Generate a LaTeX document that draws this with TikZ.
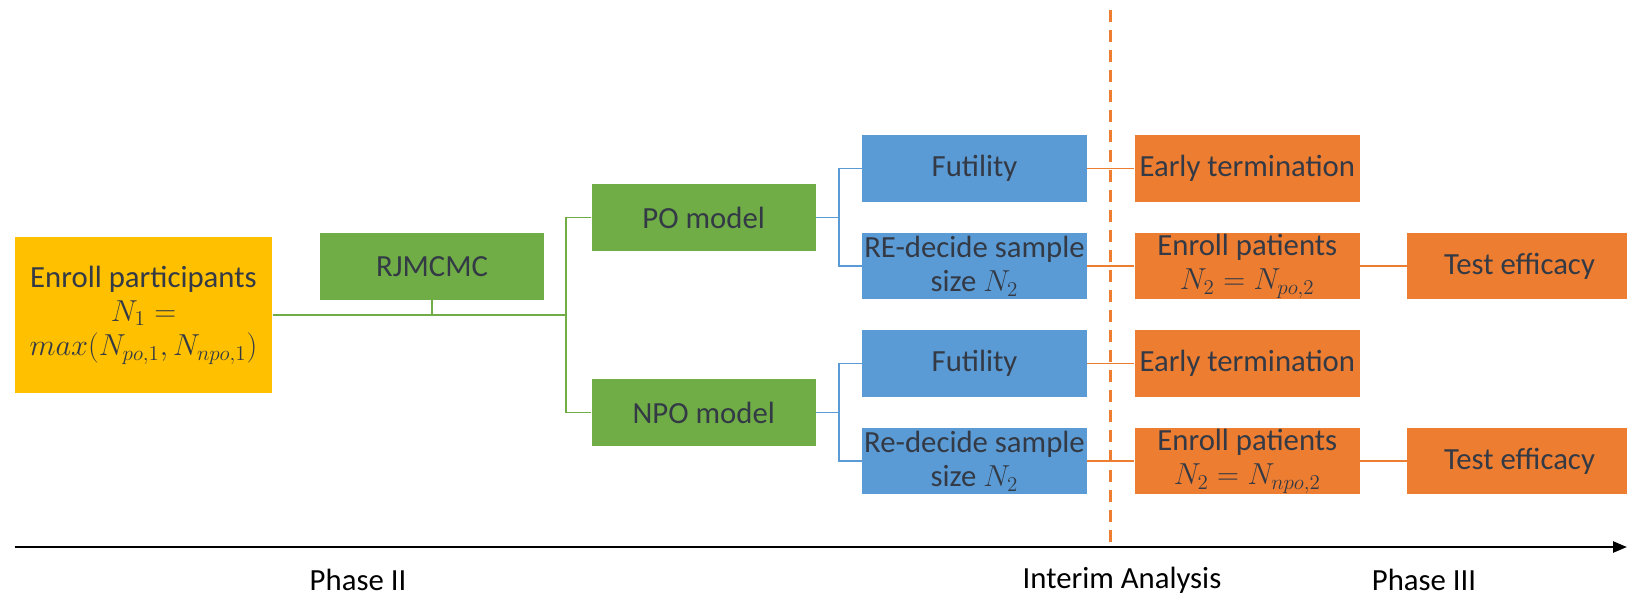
\documentclass[tikz,border=0pt]{standalone}
\usepackage{fontspec}
\setmainfont{Carlito}
\usetikzlibrary{arrows.meta}

\definecolor{boxyellow}{HTML}{FFC000}
\definecolor{boxgreen}{HTML}{70AD47}
\definecolor{boxblue}{HTML}{5B9BD5}
\definecolor{boxorange}{HTML}{ED7D31}
\definecolor{boxtext}{HTML}{333A45}

\tikzset{
  box/.style={rectangle, draw=none, align=center, text=boxtext, inner sep=0pt,
    minimum width=4.5cm, minimum height=1.33cm, font=\fontsize{17.5}{19.5}\selectfont},
  greenbox/.style={box, fill=boxgreen, minimum width=4.48cm, minimum height=1.34cm},
  bluebox/.style={box, fill=boxblue},
  orangebox/.style={box, fill=boxorange},
  greenline/.style={draw=boxgreen, line width=0.85pt},
  blueline/.style={draw=boxblue, line width=0.85pt},
  orangeline/.style={draw=boxorange, line width=0.85pt},
  phaselabel/.style={text=black, font=\fontsize{17.5}{19.5}\selectfont}
}

\begin{document}
\begin{tikzpicture}[x=0.02cm, y=-0.02cm]
\useasboundingbox (0,0) rectangle (1627,599);

% phase II
\node[box, fill=boxyellow, minimum width=5.16cm, minimum height=3.13cm] (enroll) at (143.5,315)
  {Enroll participants\\ $N_1 =$\\ $max(N_{po,1}, N_{npo,1})$};
\node[greenbox] (rjmcmc) at (432,266.3) {RJMCMC};
\node[greenbox] (po) at (703.7,217.5) {PO model};
\node[greenbox] (npo) at (703.7,412.7) {NPO model};

\node[bluebox] (fut1) at (974.5,168.7) {Futility};
\node[bluebox] (red1) at (974.5,266) {RE-decide sample\\ size $N_2$};
\node[bluebox] (fut2) at (974.5,363.7) {Futility};
\node[bluebox] (red2) at (974.5,461) {Re-decide sample\\ size $N_2$};

% phase III
\node[orangebox] (early1) at (1247.3,168.7) {Early termination};
\node[orangebox] (patients1) at (1247.3,266) {Enroll patients\\ $N_2 = N_{po,2}$};
\node[orangebox] (early2) at (1247.3,363.7) {Early termination};
\node[orangebox] (patients2) at (1247.3,461) {Enroll patients\\ $N_2 = N_{npo,2}$};
\node[orangebox] (test1) at (1519.5,266) {Test efficacy};
\node[orangebox] (test2) at (1519.5,461) {Test efficacy};

% green tree
\coordinate (split) at (566,315);
\draw[greenline] (enroll.east) -- (split);
\draw[greenline] (rjmcmc.south) -- (rjmcmc.south |- split);
\draw[greenline] (po.west) -- (po.west -| split) -- (npo.west -| split) -- (npo.west);

% blue brackets
\coordinate (pofork) at (839,217.5);
\coordinate (npofork) at (839,412.7);
\draw[blueline] (po.east) -- (pofork);
\draw[blueline] (fut1.west) -- (fut1.west -| pofork) -- (red1.west -| pofork) -- (red1.west);
\draw[blueline] (npo.east) -- (npofork);
\draw[blueline] (fut2.west) -- (fut2.west -| npofork) -- (red2.west -| npofork) -- (red2.west);

% orange links
\draw[orangeline] (fut1.east) -- (early1.west);
\draw[orangeline] (red1.east) -- (patients1.west);
\draw[orangeline] (fut2.east) -- (early2.west);
\draw[orangeline] (red2.east) -- (patients2.west);
\draw[orangeline] (patients1.east) -- (test1.west);
\draw[orangeline] (patients2.east) -- (test2.west);

% interim analysis
\coordinate (interimtop) at (1110,10);
\coordinate (interimbottom) at (1110,543);
\draw[draw=boxorange, line width=1.7pt, dash pattern=on 0.24cm off 0.16cm] (interimtop) -- (interimbottom);

% time axis
\coordinate (axisstart) at (14.5,547);
\coordinate (axisend) at (1627,547);
\draw[line width=1.4pt, -{Triangle[length=0.28cm, width=0.22cm]}] (axisstart) -- (axisend);
\node[phaselabel] (phase2) at (358,580) {Phase II};
\node[phaselabel] (interim) at (1122,580) {Interim Analysis};
\node[phaselabel] (phase3) at (1424,580) {Phase III};

\end{tikzpicture}
\end{document}
